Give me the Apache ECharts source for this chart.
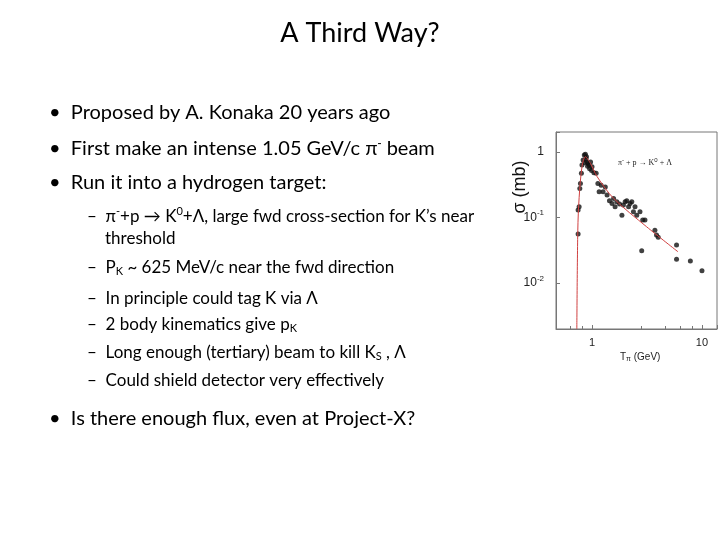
<!DOCTYPE html>
<html><head><meta charset="utf-8">
<script src="https://cdn.jsdelivr.net/npm/echarts@6/dist/echarts.min.js"></script>
<style>html,body{margin:0;background:#fff}#c{width:720px;height:540px}</style></head>
<body><div id="c"></div>
<script>
const dataX = [0.747,0.747,0.763,0.774,0.784,0.80,0.81,0.83,0.85,0.87,0.89,0.90,0.92,0.94,0.97,1.0,1.04,1.09,1.13,1.16,1.21,1.26,1.32,1.37,1.44,1.52,1.57,1.62,1.68,1.78,1.87,1.93,2.0,2.07,2.15,2.22,2.3,2.38,2.46,2.55,2.73,2.89,3.03,2.83,3.73,3.86,4.0,5.87,5.87,7.84,10.0,0.88,0.91,0.86,0.95,0.99];
const dataY = [0.056,0.13,0.145,0.277,0.33,0.47,0.63,0.75,0.89,0.92,0.84,0.70,0.66,0.63,0.70,0.59,0.48,0.47,0.33,0.246,0.31,0.246,0.29,0.22,0.18,0.163,0.195,0.145,0.174,0.16,0.108,0.154,0.174,0.18,0.145,0.163,0.174,0.122,0.145,0.108,0.122,0.091,0.091,0.031,0.064,0.054,0.05,0.038,0.023,0.0217,0.0154,0.78,0.60,0.68,0.55,0.52];
const fitX = [0.727,0.742,0.763,0.81,0.87,0.97,1.11,1.57,3.14,6.05];
const fitY = [0.002,0.064,0.2,0.59,0.84,0.66,0.42,0.195,0.072,0.03];
const xTickLabels = {1:'1',10:'10'};

const ch = echarts.init(document.getElementById('c'));
const F = 'Lato, "Open Sans", sans-serif';
function t(x,y,text,size,extra){return Object.assign({type:'text',left:x,top:y,style:{text:text,font:size+'px '+F,fill:'#000'}},extra||{});}
const rich = {sup:{fontSize:11,verticalAlign:'top',padding:[0,0,10,0],fontFamily:F},sub:{fontSize:11,padding:[8,0,0,0],fontFamily:F},n:{fontSize:17,fontFamily:F}};
function rt(x,y,text){return {type:'text',left:x,top:y,style:{text:text,rich:rich,font:'17px '+F,fill:'#000'}};}
ch.setOption({
  animation:false,
  grid:{left:556,top:132,width:161,height:197,show:true,borderColor:'#777',borderWidth:1},
  xAxis:{type:'log',min:0.47,max:13.7,logBase:10,axisLine:{lineStyle:{color:'#777'}},axisTick:{inside:true,length:4,lineStyle:{color:'#777'}},
    minorTick:{show:true,splitNumber:5},splitLine:{show:false},
    axisLabel:{margin:8,fontSize:11,color:'#222',fontFamily:'Liberation Sans',formatter:v=>xTickLabels[Math.round(v*1000)/1000]||''}},
  yAxis:{type:'log',min:0.002,max:2.0,axisLine:{lineStyle:{color:'#777'}},axisTick:{inside:true,length:4,lineStyle:{color:'#777'}},splitLine:{show:false},
    axisLabel:{margin:12,fontSize:12,color:'#222',fontFamily:'Liberation Sans',rich:{s:{fontSize:8,verticalAlign:'top',padding:[0,0,9,0]}},
      formatter:v=>{const r=Math.round(Math.log10(v));if(Math.abs(Math.log10(v)-r)>0.01)return '';return r===0?'1':r===-1?'10{s|-1}':r===-2?'10{s|-2}':'';}}},
  series:[
    {type:'line',data:fitX.map((x,i)=>[x,fitY[i]]),showSymbol:false,lineStyle:{color:'#d04040',width:1},smooth:0.3},
    {type:'scatter',data:dataX.map((x,i)=>[x,dataY[i]]),symbolSize:5,itemStyle:{color:'#111'}}
  ],
  graphic:[
    {type:'text',left:'center',top:20,style:{text:'A Third Way?',font:'27px '+F,fill:'#000'}},
    t(49,103,'•  Proposed by A. Konaka 20 years ago',20),
    {type:'text',left:49,top:138,style:{text:'•  First make an intense 1.05 GeV/c π{sp|-} beam',font:'20px '+F,fill:'#000',rich:{sp:{fontSize:12,verticalAlign:'top',padding:[0,0,10,0]}}}},
    t(49,173,'•  Run it into a hydrogen target:',20),
    rt(87,206,'–  π{sup|-}+p → K{sup|0}+Λ, large fwd cross-section for K’s near'),
    t(105,230,'threshold',17),
    rt(87,259,'–  P{sub|K} ~ 625 MeV/c near the fwd direction'),
    rt(87,290,'–  In principle could tag K via Λ'),
    rt(87,316,'–  2 body kinematics give p{sub|K}'),
    rt(87,344,'–  Long enough (tertiary) beam to kill K{sub|S} , Λ'),
    rt(87,372,'–  Could shield detector very effectively'),
    {type:'text',x:520,y:187,rotation:Math.PI/2,style:{text:'σ (mb)',font:'18px "Liberation Sans"',fill:'#111',align:'center',verticalAlign:'middle'}},
    t(49,409,'•  Is there enough flux, even at Project-X?',20),
    {type:'text',left:620,top:352,style:{text:'T{s|π} (GeV)',font:'10px "Liberation Sans"',fill:'#222',rich:{s:{fontSize:7,padding:[5,0,0,0]}}}},
    {type:'text',left:618,top:157,style:{text:'π{s|-} + p → K{s|0} + Λ',font:'8px "Liberation Serif"',fill:'#222',rich:{s:{fontSize:6,verticalAlign:'top',padding:[0,0,5,0]}}}}
  ]
});
</script></body></html>
